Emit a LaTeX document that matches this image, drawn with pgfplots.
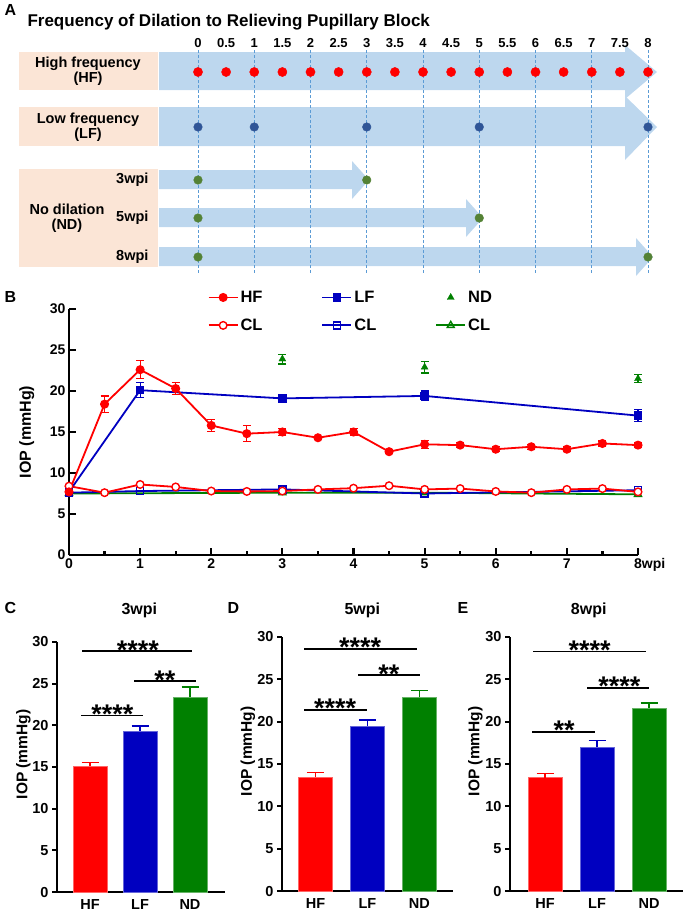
\documentclass[border=0pt]{standalone}
\usepackage{pgfplots}
\pgfplotsset{compat=1.18}
\usepackage{fontspec}
\setmainfont{Liberation Sans}

\definecolor{boxpink}{HTML}{FBE5D6}
\definecolor{arrowblue}{HTML}{BDD7EE}
\definecolor{gridblue}{HTML}{5B9BD5}
\definecolor{lfdot}{HTML}{2F5597}
\definecolor{nddot}{HTML}{548235}
\definecolor{hfred}{HTML}{FF0000}
\definecolor{lfblue}{HTML}{0000C0}
\definecolor{ndgreen}{HTML}{008000}

\newcommand{\fs}[1]{\fontsize{#1}{#1}\selectfont\bfseries}

\tikzset{
  sig/.style={line width=1.4pt},
  stars/.style={font=\fs{27}, anchor=base, yshift=-8pt},
}

\pgfplotsset{
  barpanel/.style={
    scale only axis, anchor=south west, ymin=0, ymax=30,
    axis x line*=bottom, axis y line*=left,
    axis line style={line width=2.2pt},
    ytick={0,5,...,30}, xtick={0,1,2}, xticklabels={HF,LF,ND},
    tick align=outside, major tick length=5pt,
    tick style={line width=2.2pt, black},
    x tick style={draw=none},
    /pgf/number format/assume math mode=true,
    yticklabel style={font=\fs{14.5}},
    xticklabel style={font=\fs{14.5}, yshift=1pt},
    ylabel={IOP (mmHg)},
    every axis y label/.style={at={(axis description cs:-0.2,0.55)}, rotate=90, anchor=center, font=\fs{15.5}},
    ybar, bar width=34pt, bar shift=0pt,
    clip=false,
  },
  barerr/.style={error bars/.cd, y dir=plus, y explicit,
    error bar style={line width=1.4pt, #1},
    error mark options={rotate=90, mark size=8.5pt, line width=1.4pt, #1}},
  lineerr/.style={error bars/.cd, y dir=both, y explicit,
    error bar style={line width=1.2pt, #1},
    error mark options={rotate=90, mark size=4pt, line width=1.2pt, #1}},
}

\begin{document}
\begin{tikzpicture}
\useasboundingbox (0,0) rectangle (685pt,-912pt);

% ---------------- Panel A ----------------
\node[anchor=north west, font=\fs{16}] at (1pt,-1pt) {A};
\begin{axis}[at={(0pt,0pt)}, anchor=north west, scale only axis,
  width=685pt, height=285pt, xmin=0, xmax=685, ymin=0, ymax=285,
  y dir=reverse, hide axis, clip=false]
  \node[anchor=base west, font=\fs{17}] at (24,26) {Frequency of Dilation to Relieving Pupillary Block};
  % boxes
  \fill[boxpink] (19,52) rectangle (158,90);
  \fill[boxpink] (19,107) rectangle (158,146);
  \fill[boxpink] (19,169) rectangle (158,267);
  % arrows
  \fill[arrowblue] (159,52) -- (625,52) -- (625,45) -- (657,72) -- (625,99) -- (625,90) -- (159,90) -- cycle;
  \fill[arrowblue] (159,107) -- (625,107) -- (625,96) -- (657,127) -- (625,160) -- (625,146) -- (159,146) -- cycle;
  \fill[arrowblue] (159,170) -- (352,170) -- (352,161) -- (369,180) -- (352,199) -- (352,189) -- (159,189) -- cycle;
  \fill[arrowblue] (159,208) -- (466,208) -- (466,199) -- (483,218) -- (466,237) -- (466,227) -- (159,227) -- cycle;
  \fill[arrowblue] (159,247) -- (636,247) -- (636,238) -- (653,257) -- (636,276) -- (636,266) -- (159,266) -- cycle;
  % texts
  \node[align=center, font=\fs{14.5}] at (88,71) {High frequency\\(HF)};
  \node[align=center, font=\fs{14.5}] at (88,127) {Low frequency\\(LF)};
  \node[align=center, font=\fs{14.5}] at (67,218) {No dilation\\(ND)};
  \node[anchor=east, font=\fs{14.5}] at (152,180) {3wpi};
  \node[anchor=east, font=\fs{14.5}] at (152,218) {5wpi};
  \node[anchor=east, font=\fs{14.5}] at (152,257) {8wpi};
  \pgfplotsinvokeforeach{0,0.5,1,1.5,2,2.5,3,3.5,4,4.5,5,5.5,6,6.5,7,7.5,8}{
    \node[font=\fs{13}] at ({198+56.25*#1},43) {#1};
  }
  \pgfplotsinvokeforeach{0,1,2,3,4,5,6,7,8}{
    \draw[gridblue, line width=0.6pt, dash pattern=on 3pt off 2pt] ({198+56.25*#1},50) -- ({198+56.25*#1},273);
  }
  % dilation days (weeks)
  \addplot[only marks, mark=*, mark size=4.6pt, hfred] table[x expr={198+56.25*\thisrowno{0}}, y expr=72, row sep=\\]
    {w\\0\\0.5\\1\\1.5\\2\\2.5\\3\\3.5\\4\\4.5\\5\\5.5\\6\\6.5\\7\\7.5\\8\\};
  \addplot[only marks, mark=*, mark size=4.3pt, lfdot] table[x expr={198+56.25*\thisrowno{0}}, y expr=127, row sep=\\]
    {w\\0\\1\\3\\5\\8\\};
  \addplot[only marks, mark=*, mark size=4.3pt, nddot] table[x expr={198+56.25*\thisrowno{0}}, y index=1, row sep=\\]
    {w y\\0 180\\3 180\\0 218\\5 218\\0 257\\8 257\\};
\end{axis}

% ---------------- Panel B ----------------
\node[anchor=north west, font=\fs{16}] at (1pt,-288pt) {B};
\begin{axis}[at={(69pt,-555pt)}, anchor=south west, scale only axis,
  width=569pt, height=246pt, xmin=0, xmax=8, ymin=0, ymax=30,
  axis x line*=bottom, axis y line*=left,
  axis line style={line width=2.2pt},
  tick style={line width=2.2pt, black},
  tick align=inside, major tick length=7pt, minor tick length=4pt,
  xtick={0,...,8}, xticklabels={0,1,2,3,4,5,6,7,8\rlap{wpi}},
  minor xtick={0.5,1.5,...,7.5}, ytick={0,5,...,30},
  /pgf/number format/assume math mode=true,
  ticklabel style={font=\fs{14}},
  ylabel={IOP (mmHg)},
  every axis y label/.style={at={(axis description cs:-0.074,0.5)}, rotate=90, anchor=center, font=\fs{16}},
  legend columns=3,
  legend style={draw=none, fill=none, at={(0.2435,1.082)}, anchor=north west,
    font=\fs{16.5}, row sep=11pt, inner sep=0pt,
    /tikz/every even column/.append style={column sep=57pt}},
  legend cell align=left,
  legend image code/.code={\draw[mark repeat=2, mark phase=2, #1] plot coordinates {(0pt,0pt) (14.5pt,0pt) (29pt,0pt)};},
  clip=false]
  % controls (CL)
  \addplot[forget plot, ndgreen, line width=1.8pt, mark=triangle, mark size=4pt, mark options={fill=white, line width=1.4pt}]
    coordinates {(0,7.5) (3,7.6) (5,7.6) (8,7.4)};
  \addplot[forget plot, lfblue, line width=1.8pt, mark=square, mark size=3.5pt, mark options={fill=white, line width=1.4pt}]
    coordinates {(0,7.6) (1,7.8) (3,8.0) (5,7.5) (8,7.9)};
  \addplot[forget plot, hfred, line width=1.8pt, mark=*, mark size=3.8pt, mark options={fill=white, line width=1.4pt}]
    coordinates {(0,8.4) (0.5,7.6) (1,8.6) (1.5,8.3) (2,7.8) (2.5,7.75) (3,7.8) (3.5,8.0) (4,8.15) (4.5,8.45)
                 (5,8.0) (5.5,8.1) (6,7.75) (6.5,7.6) (7,8.0) (7.5,8.1) (8,7.7)};
  % dilated eyes
  \addplot[forget plot, lfblue, line width=1.8pt, mark=square*, mark size=3.3pt, lineerr=lfblue]
    coordinates {(0,7.7) +- (0,0.2) (1,20.1) +- (0,0.9) (3,19.1) +- (0,0.5) (5,19.4) +- (0,0.6) (8,17.0) +- (0,0.7)};
  \addplot[forget plot, hfred, line width=1.8pt, mark=*, mark size=3.6pt, lineerr=hfred]
    coordinates {(0,7.7) +- (0,0.2) (0.5,18.4) +- (0,1.0) (1,22.6) +- (0,1.1) (1.5,20.3) +- (0,0.7)
                 (2,15.8) +- (0,0.7) (2.5,14.8) +- (0,1.0) (3,15.0) +- (0,0.4) (3.5,14.3) +- (0,0.2)
                 (4,15.0) +- (0,0.4) (4.5,12.6) +- (0,0.2) (5,13.5) +- (0,0.5) (5.5,13.4) +- (0,0.3)
                 (6,12.9) +- (0,0.3) (6.5,13.2) +- (0,0.3) (7,12.9) +- (0,0.3) (7.5,13.6) +- (0,0.3) (8,13.4) +- (0,0.3)};
  \addplot[forget plot, ndgreen, only marks, mark=triangle*, mark size=4pt, lineerr=ndgreen]
    coordinates {(3,23.9) +- (0,0.6) (5,22.9) +- (0,0.7) (8,21.5) +- (0,0.5)};
  % legend
  \addlegendimage{hfred, line width=1.8pt, mark=*, mark size=3.6pt}
  \addlegendentry{HF}
  \addlegendimage{lfblue, line width=1.8pt, mark=square*, mark size=3.3pt}
  \addlegendentry{LF}
  \addlegendimage{ndgreen, only marks, mark=triangle*, mark size=4pt}
  \addlegendentry{ND}
  \addlegendimage{hfred, line width=1.8pt, mark=*, mark size=3.8pt, mark options={fill=white, line width=1.4pt}}
  \addlegendentry{CL}
  \addlegendimage{lfblue, line width=1.8pt, mark=square, mark size=3.5pt, mark options={fill=white, line width=1.4pt}}
  \addlegendentry{CL}
  \addlegendimage{ndgreen, line width=1.8pt, mark=triangle, mark size=4pt, mark options={fill=white, line width=1.4pt}}
  \addlegendentry{CL}
\end{axis}

% ---------------- Panel C ----------------
\node[anchor=west, font=\fs{16}] at (1pt,-608pt) {C};
\begin{axis}[barpanel, at={(57pt,-892pt)}, width=168pt, height=250pt,
  xmin=-0.66, xmax=2.7, title={3wpi},
  title style={at={(0.49,1)}, anchor=base, yshift=22pt, font=\fs{16}}]
  \addplot[fill=hfred, draw=hfred!60!white, line width=0.8pt, barerr=hfred] coordinates {(0,15.1) +- (0,0.45)};
  \addplot[fill=lfblue, draw=lfblue!60!white, line width=0.8pt, barerr=lfblue] coordinates {(1,19.3) +- (0,0.6)};
  \addplot[fill=ndgreen, draw=ndgreen!60!white, line width=0.8pt, barerr=ndgreen] coordinates {(2,23.4) +- (0,1.2)};
  \draw[sig] (axis cs:-0.16,28.9) -- (axis cs:2.04,28.9);
  \node[stars] at (axis cs:0.96,28.9) {****};
  \draw[sig] (axis cs:0.88,25.3) -- (axis cs:2.12,25.3);
  \node[stars] at (axis cs:1.5,25.3) {**};
  \draw[sig] (axis cs:-0.18,21.2) -- (axis cs:1.06,21.2);
  \node[stars] at (axis cs:0.45,21.2) {****};
\end{axis}

% ---------------- Panel D ----------------
\node[anchor=west, font=\fs{16}] at (224pt,-608pt) {D};
\begin{axis}[barpanel, at={(282pt,-891pt)}, width=171pt, height=254pt,
  xmin=-0.644, xmax=2.646, title={5wpi},
  title style={at={(0.47,1)}, anchor=base, yshift=17pt, font=\fs{16}}]
  \addplot[fill=hfred, draw=hfred!60!white, line width=0.8pt, barerr=hfred] coordinates {(0,13.45) +- (0,0.55)};
  \addplot[fill=lfblue, draw=lfblue!60!white, line width=0.8pt, barerr=lfblue] coordinates {(1,19.5) +- (0,0.7)};
  \addplot[fill=ndgreen, draw=ndgreen!60!white, line width=0.8pt, barerr=ndgreen] coordinates {(2,22.9) +- (0,0.75)};
  \draw[sig] (axis cs:-0.22,28.6) -- (axis cs:1.95,28.6);
  \node[stars] at (axis cs:0.86,28.6) {****};
  \draw[sig] (axis cs:0.82,25.5) -- (axis cs:2.01,25.5);
  \node[stars] at (axis cs:1.41,25.5) {**};
  \draw[sig] (axis cs:-0.22,21.4) -- (axis cs:0.99,21.4);
  \node[stars] at (axis cs:0.38,21.4) {****};
\end{axis}

% ---------------- Panel E ----------------
\node[anchor=west, font=\fs{16}] at (454pt,-608pt) {E};
\begin{axis}[barpanel, at={(510pt,-891pt)}, width=173pt, height=254pt,
  xmin=-0.673, xmax=2.654, title={8wpi},
  title style={at={(0.455,1)}, anchor=base, yshift=17pt, font=\fs{16}}]
  \addplot[fill=hfred, draw=hfred!60!white, line width=0.8pt, barerr=hfred] coordinates {(0,13.4) +- (0,0.5)};
  \addplot[fill=lfblue, draw=lfblue!60!white, line width=0.8pt, barerr=lfblue] coordinates {(1,17.0) +- (0,0.8)};
  \addplot[fill=ndgreen, draw=ndgreen!60!white, line width=0.8pt, barerr=ndgreen] coordinates {(2,21.6) +- (0,0.6)};
  \draw[sig] (axis cs:-0.23,28.3) -- (axis cs:1.94,28.3);
  \node[stars] at (axis cs:0.86,28.3) {****};
  \draw[sig] (axis cs:0.81,24.0) -- (axis cs:2.0,24.0);
  \node[stars] at (axis cs:1.43,24.0) {****};
  \draw[sig] (axis cs:-0.25,18.8) -- (axis cs:0.96,18.8);
  \node[stars] at (axis cs:0.37,18.8) {**};
\end{axis}
\end{tikzpicture}
\end{document}
